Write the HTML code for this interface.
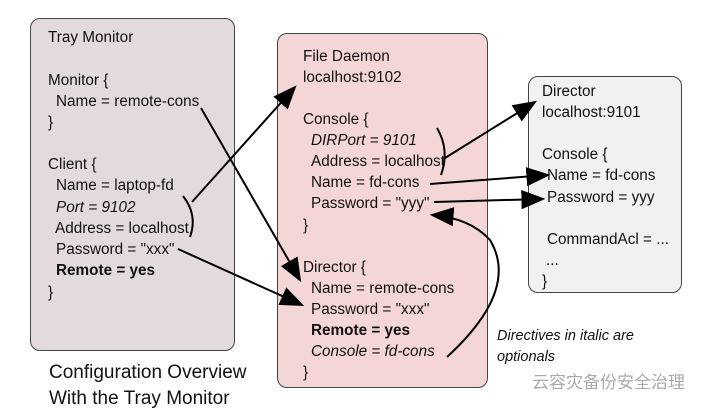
<!DOCTYPE html>
<html><head><style>
body{margin:0;width:706px;height:414px;background:#fff;overflow:hidden;position:relative;font-family:"Liberation Sans",Arial,sans-serif;}
.box{position:absolute;border:1.5px solid #444;border-radius:10px;box-sizing:border-box;}
.t{position:absolute;font-size:15.3px;color:#111;white-space:nowrap;line-height:18px;}
i{font-style:italic}b{font-weight:bold}
</style></head><body>
<div class="box" style="left:30px;top:18px;width:205px;height:333px;background:#e3dbdb"></div>
<div class="box" style="left:277px;top:33px;width:211px;height:355px;background:#f4d6d6"></div>
<div class="box" style="left:528px;top:76px;width:154px;height:217px;background:#f1f1f1"></div>

<div class="t" style="left:48px;top:29px">Tray Monitor</div>
<div class="t" style="left:48px;top:72px">Monitor {</div>
<div class="t" style="left:56px;top:93px">Name = remote-cons</div>
<div class="t" style="left:48px;top:114px">}</div>
<div class="t" style="left:48px;top:156px">Client {</div>
<div class="t" style="left:56px;top:177px">Name = laptop-fd</div>
<div class="t" style="left:56px;top:199px"><i>Port = 9102</i></div>
<div class="t" style="left:55px;top:220px">Address = localhost</div>
<div class="t" style="left:56px;top:241px">Password = "xxx"</div>
<div class="t" style="left:56px;top:262px"><b>Remote = yes</b></div>
<div class="t" style="left:48px;top:284px">}</div>

<div class="t" style="left:303px;top:48px">File Daemon</div>
<div class="t" style="left:303px;top:69px">localhost:9102</div>
<div class="t" style="left:303px;top:111px">Console {</div>
<div class="t" style="left:311px;top:132px"><i>DIRPort = 9101</i></div>
<div class="t" style="left:311px;top:153px">Address = localhost</div>
<div class="t" style="left:311px;top:174px">Name = fd-cons</div>
<div class="t" style="left:311px;top:195px">Password = "yyy"</div>
<div class="t" style="left:303px;top:217px">}</div>
<div class="t" style="left:303px;top:259px">Director {</div>
<div class="t" style="left:311px;top:280px">Name = remote-cons</div>
<div class="t" style="left:311px;top:301px">Password = "xxx"</div>
<div class="t" style="left:311px;top:322px"><b>Remote = yes</b></div>
<div class="t" style="left:311px;top:343px"><i>Console = fd-cons</i></div>
<div class="t" style="left:303px;top:364px">}</div>

<div class="t" style="left:542px;top:83px">Director</div>
<div class="t" style="left:542px;top:104px">localhost:9101</div>
<div class="t" style="left:542px;top:146px">Console {</div>
<div class="t" style="left:547px;top:167px">Name = fd-cons</div>
<div class="t" style="left:547px;top:189px">Password = yyy</div>
<div class="t" style="left:547px;top:231px">CommandAcl = ...</div>
<div class="t" style="left:546px;top:252px">...</div>
<div class="t" style="left:542px;top:273px">}</div>

<div class="t" style="left:49px;top:362px;font-size:19px;line-height:21px">Configuration Overview</div>
<div class="t" style="left:49px;top:388px;font-size:19px;line-height:21px">With the Tray Monitor</div>
<div class="t" style="left:497px;top:327px;font-size:14.5px"><i>Directives in italic are</i></div>
<div class="t" style="left:497px;top:348px;font-size:14.5px"><i>optionals</i></div>
<div class="t" style="left:532px;top:374px;font-size:17px;color:#aaa;font-family:'Liberation Sans','Noto Sans CJK SC',sans-serif">云容灾备份安全治理</div>

<svg width="706" height="414" style="position:absolute;left:0;top:0">
<defs>
<marker id="b" viewBox="0 0 10 10" refX="9" refY="5" markerWidth="24" markerHeight="24" orient="auto" markerUnits="userSpaceOnUse"><path d="M0,1 L10,5 L0,9 z" fill="#000"/></marker></defs>
<g stroke="#000" stroke-width="2" fill="none">
<path d="M183,196 Q198,215 190,237"/>
<path d="M437,128 Q450,150 441,175"/>
<line x1="192" y1="202" x2="295" y2="87" marker-end="url(#b)"/>
<line x1="201" y1="108" x2="300" y2="280" marker-end="url(#b)"/>
<line x1="178" y1="249" x2="302" y2="305" marker-end="url(#b)"/>
<line x1="445" y1="158" x2="535" y2="102" marker-end="url(#b)"/>
<line x1="430" y1="184" x2="548" y2="175" marker-end="url(#b)"/>
<line x1="434" y1="202" x2="543" y2="199" marker-end="url(#b)"/>
<path d="M447,357 Q520,290 490,240 Q470,218 432,215" marker-end="url(#b)"/>
</g></svg>
</body></html>
